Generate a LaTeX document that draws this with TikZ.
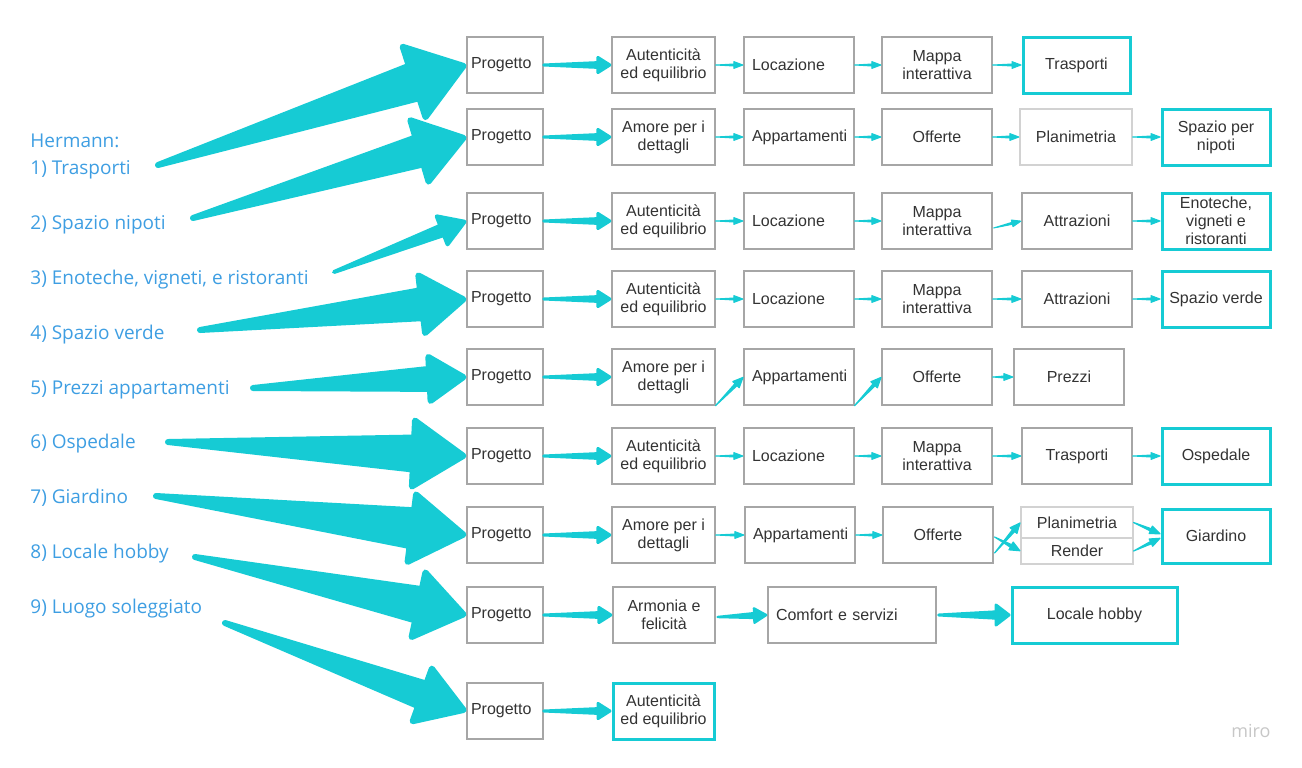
\documentclass[tikz,border=0pt]{standalone}
\usepackage{fontspec}
\setmainfont{Liberation Sans}
\newfontfamily\wishfont{Open Sans}
\usetikzlibrary{calc}

\definecolor{flowcyan}{HTML}{16CBD4}
\definecolor{boxgray}{HTML}{A6A6A6}
\definecolor{paleline}{HTML}{D2D2D2}
\definecolor{wishblue}{HTML}{3E9EE2}
\definecolor{textgray}{HTML}{333333}

\tikzset{
  box/.style={draw=boxgray, line width=0.6pt, minimum width=#1, minimum height=28pt,
    inner sep=1pt, align=center, text=textgray, font=\fontsize{8}{9}\selectfont},
  box/.default=20pt,
  boxl/.style={box, text width=#1, align=left, inner xsep=4pt},
  goal/.style={box=#1, draw=flowcyan, line width=1.5pt},
  pale/.style={box=#1, draw=paleline},
  flow/.style={fill=flowcyan, draw=flowcyan, line join=round},
  wish/.style={anchor=base west, inner sep=0pt, text=wishblue, font=\wishfont\fontsize{9.5}{11}\selectfont}
}

% tapered arrow: [line width]{from}{to}{half shaft}{half head}{head length}
\newcommand{\taper}[6][0.5pt]{%
  \coordinate (ta-s) at (#2);
  \coordinate (ta-e) at ($(#3)!0.5*#1!(#2)$);
  \coordinate (ta-b) at ($(ta-e)!#6!(ta-s)$);
  \filldraw[flow, line width=#1] (ta-s) -- ($(ta-b)!#4!90:(ta-e)$) -- ($(ta-b)!#5!90:(ta-e)$)
    -- (ta-e) -- ($(ta-b)!#5!-90:(ta-e)$) -- ($(ta-b)!#4!-90:(ta-e)$) -- cycle;
}

\begin{document}
\begin{tikzpicture}[x=0.5pt,y=-0.5pt]
\useasboundingbox (0,0) rectangle (1302,767);

% wishes
\node[wish] (h) at (30,147) {Hermann:};
\foreach \i/\y/\t in {1/174/Trasporti, 2/229/Spazio nipoti, 3/284/{Enoteche, vigneti, e ristoranti},
  4/339/Spazio verde, 5/394/Prezzi appartamenti, 6/448/Ospedale, 7/503/Giardino,
  8/558/Locale hobby, 9/613/Luogo soleggiato}{\node[wish] (l\i) at (30,\y) {\i) \t};}

% progetto column
\foreach \r/\y in {1/65,2/137,3/221,4/299,5/377,6/456,7/535,8/615,9/711}{\node[boxl=34pt, inner xsep=2pt] (p\r) at (505,\y) {Progetto};}

% row 1
\node[box=51.5pt] (a1) at (663.5,65) {Autenticità\\ed equilibrio};
\node[boxl=47pt] (b1) at (799,65) {Locazione};
\node[box=55pt] (c1) at (937,65) {Mappa\\interattiva};
\node[goal=53.5pt] (d1) at (1076.5,65) {Trasporti};
% row 2
\node[box=51.5pt] (a2) at (663.5,137) {Amore per i\\dettagli};
\node[boxl=47pt] (b2) at (799,137) {Appartamenti};
\node[box=55pt] (c2) at (937,137) {Offerte};
\node[pale=56pt] (d2) at (1076,137) {Planimetria};
\node[goal=54pt] (e2) at (1216,137) {Spazio per\\nipoti};
% row 3
\node[box=51.5pt] (a3) at (663.5,221) {Autenticità\\ed equilibrio};
\node[boxl=47pt] (b3) at (799,221) {Locazione};
\node[box=55pt] (c3) at (937,221) {Mappa\\interattiva};
\node[box=55pt] (d3) at (1077,221) {Attrazioni};
\node[goal=54pt, inner ysep=0pt] (e3) at (1216,221) {Enoteche,\\vigneti e\\ristoranti};
% row 4
\node[box=51.5pt] (a4) at (663.5,299) {Autenticità\\ed equilibrio};
\node[boxl=47pt] (b4) at (799,299) {Locazione};
\node[box=55pt] (c4) at (937,299) {Mappa\\interattiva};
\node[box=55pt] (d4) at (1077,299) {Attrazioni};
\node[goal=54pt] (e4) at (1216,299) {Spazio verde};
% row 5
\node[box=51.5pt] (a5) at (663.5,377) {Amore per i\\dettagli};
\node[boxl=47pt] (b5) at (799,377) {Appartamenti};
\node[box=55pt] (c5) at (937,377) {Offerte};
\node[box=55pt] (d5) at (1069,377) {Prezzi};
% row 6
\node[box=51.5pt] (a6) at (663.5,456) {Autenticità\\ed equilibrio};
\node[boxl=47pt] (b6) at (799,456) {Locazione};
\node[box=55pt] (c6) at (937,456) {Mappa\\interattiva};
\node[box=55pt] (d6) at (1077,456) {Trasporti};
\node[goal=54pt] (e6) at (1216,456) {Ospedale};
% row 7
\node[box=51.5pt] (a7) at (663.5,535) {Amore per i\\dettagli};
\node[boxl=47pt] (b7) at (800,535) {Appartamenti};
\node[box=55pt] (c7) at (938,535) {Offerte};
\node[pale=56pt, minimum height=15.5pt] (d7) at (1077,522.5) {Planimetria};
\node[pale=56pt, minimum height=13pt] (f7) at (1077,551) {Render};
\node[goal=54pt, minimum height=27pt] (e7) at (1216,536) {Giardino};
% row 8
\node[box=51pt] (a8) at (664,615) {Armonia e\\felicità};
\node[boxl=76pt] (b8) at (852,615) {Comfort e servizi};
\node[goal=82.5pt] (c8) at (1094.5,615) {Locale hobby};
% row 9
\node[goal=50.5pt] (a9) at (663.5,711) {Autenticità\\ed equilibrio};

% wish arrows
\coordinate (t1) at (158,165); \coordinate (t2) at (193,218); \coordinate (t3) at (334,272);
\coordinate (t4) at (200,330); \coordinate (t5) at (253,388); \coordinate (t6) at (168,442);
\coordinate (t7) at (156,496); \coordinate (t8) at (195,557); \coordinate (t9) at (225,623);
\taper[3pt]{t1}{p1.west}{8.5pt}{18.5pt}{26pt}
\taper[3pt]{t2}{p2.west}{7pt}{16pt}{23pt}
\taper[2pt]{t3}{p3.west}{2.5pt}{7.5pt}{12pt}
\taper[3pt]{t4}{p4.west}{7pt}{14.5pt}{21pt}
\taper[3pt]{t5}{p5.west}{5pt}{11pt}{17pt}
\taper[3pt]{t6}{p6.west}{8pt}{16.5pt}{25pt}
\taper[3pt]{t7}{p7.west}{9pt}{17pt}{26pt}
\taper[3pt]{t8}{p8.west}{8pt}{16.5pt}{23pt}
\taper[3pt]{t9}{p9.west}{6pt}{14pt}{22pt}

% progetto to second step
\foreach \r in {1,...,9}{\taper[1.5pt]{p\r.east}{a\r.west}{1.2pt}{3.8pt}{6pt}}

% thin steps
\foreach \u/\v in {a1/b1,b1/c1,c1/d1, a2/b2,b2/c2,c2/d2,d2/e2, a3/b3,b3/c3,d3/e3,
  a4/b4,b4/c4,c4/d4,d4/e4, c5/d5, a6/b6,b6/c6,c6/d6,d6/e6, a7/b7,b7/c7}{%
  \taper{\u.east}{\v.west}{0.5pt}{1.7pt}{4.5pt}}
\taper{$(c3.east)+(1,7)$}{d3.west}{0.5pt}{1.7pt}{4.5pt}

% crooked steps
\taper[0.6pt]{a5.south east}{b5.west}{0.7pt}{2.2pt}{5pt}
\taper[0.6pt]{b5.south east}{c5.west}{0.7pt}{2.2pt}{5pt}
\taper[0.6pt]{$(c7.east)+(1,18)$}{d7.west}{0.7pt}{2.2pt}{5pt}
\taper[0.6pt]{$(c7.east)+(1,2)$}{f7.west}{0.7pt}{2.2pt}{5pt}
\taper[0.6pt]{d7.east}{$(e7.west)+(0,-2)$}{0.6pt}{2pt}{5pt}
\taper[0.6pt]{f7.east}{$(e7.west)+(0,2)$}{0.6pt}{2pt}{5pt}

% row 8 steps
\taper[1.2pt]{$(a8.east)+(2,2)$}{b8.west}{1.2pt}{3.6pt}{6pt}
\taper[1.5pt]{$(b8.east)+(2,0)$}{c8.west}{1.6pt}{5pt}{6.5pt}

\node[text=black!22, font=\wishfont\fontsize{9}{10}\selectfont] (logo) at (1251,731) {miro};
\end{tikzpicture}
\end{document}
